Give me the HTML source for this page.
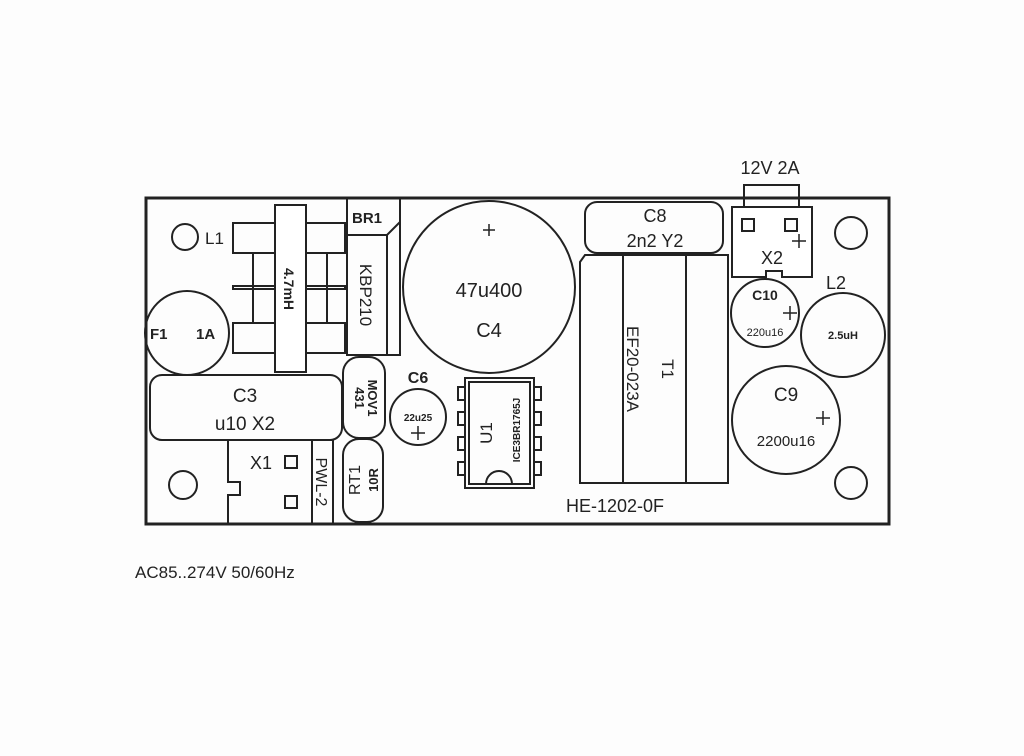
<!DOCTYPE html>
<html><head><style>
html,body{margin:0;padding:0;background:#fff;}
svg{display:block;}
text{font-family:"Liberation Sans",sans-serif;fill:#222;}
</style></head><body>
<svg width="1024" height="756" viewBox="0 0 1024 756" xmlns="http://www.w3.org/2000/svg">
<rect width="1024" height="756" fill="#fdfdfd"/>
<g fill="none" stroke="#222" stroke-width="2">
<rect x="146" y="198" width="743" height="326" stroke-width="3"/>
<!-- holes -->
<circle cx="185" cy="237" r="13"/>
<circle cx="183" cy="485" r="14"/>
<circle cx="851" cy="233" r="16"/>
<circle cx="851" cy="483" r="16"/>
<!-- F1 -->
<circle cx="187" cy="333" r="42"/>
<!-- L1 coil -->
<rect x="233" y="223" width="42" height="30"/>
<rect x="233" y="323" width="42" height="30"/>
<rect x="306" y="223" width="39" height="30"/>
<rect x="306" y="323" width="39" height="30"/>
<line x1="253" y1="253" x2="253" y2="323"/>
<line x1="327" y1="253" x2="327" y2="323"/>
<rect x="233" y="286" width="112" height="3"/>
<rect x="275" y="205" width="31" height="167" fill="#fff"/>
<!-- BR1 -->
<path d="M347 198 V355 H400 V224 L400 198"/>
<path d="M347 235 H387 L400 222"/>
<line x1="387" y1="235" x2="387" y2="355"/>
<!-- C3 -->
<rect x="150" y="375" width="192" height="65" rx="12"/>
<!-- MOV1 / RT1 -->
<rect x="343" y="357" width="42" height="81" rx="16"/>
<rect x="343" y="439" width="40" height="83" rx="16"/>
<!-- X1 -->
<path d="M333 440 H228 V482 H240 V495 H228 V524"/>
<line x1="312" y1="440" x2="312" y2="524"/>
<line x1="333" y1="440" x2="333" y2="524"/>
<rect x="285" y="456" width="12" height="12"/>
<rect x="285" y="496" width="12" height="12"/>
<!-- C4 -->
<circle cx="489" cy="287" r="86"/>
<path d="M483 230 H495 M489 224 V236" stroke-width="1.5"/>
<!-- C6 -->
<circle cx="418" cy="417" r="28"/>
<path d="M411 433 H425 M418 426 V440" stroke-width="1.5"/>
<!-- U1 -->
<rect x="465" y="378" width="69" height="110"/>
<rect x="469" y="382" width="61" height="102"/>
<rect x="458" y="387" width="7" height="13"/><rect x="458" y="412" width="7" height="13"/>
<rect x="458" y="437" width="7" height="13"/><rect x="458" y="462" width="7" height="13"/>
<rect x="534" y="387" width="7" height="13"/><rect x="534" y="412" width="7" height="13"/>
<rect x="534" y="437" width="7" height="13"/><rect x="534" y="462" width="7" height="13"/>
<path d="M486 484 A13 13 0 0 1 512 484 Z"/>
<!-- C8 -->
<rect x="585" y="202" width="138" height="51" rx="12"/>
<!-- T1 -->
<path d="M585 255 H728 V483 H580 V262 Z"/>
<line x1="623" y1="255" x2="623" y2="483"/>
<line x1="686" y1="255" x2="686" y2="483"/>
<!-- X2 -->
<rect x="744" y="185" width="55" height="22"/>
<path d="M732 207 H812 V277 H782 V271 H766 V277 H732 Z" fill="#fff"/>
<rect x="742" y="219" width="12" height="12"/>
<rect x="785" y="219" width="12" height="12"/>
<path d="M792 241 H806 M799 234 V248" stroke-width="1.5"/>
<!-- C10 -->
<circle cx="765" cy="313" r="34"/>
<path d="M783 313 H797 M790 306 V320" stroke-width="1.5"/>
<!-- L2 -->
<circle cx="843" cy="335" r="42"/>
<!-- C9 -->
<circle cx="786" cy="420" r="54"/>
<path d="M816 418 H830 M823 411 V425" stroke-width="1.5"/>
</g>
<g font-size="17">
<text x="205" y="244">L1</text>
<text x="150" y="339" font-weight="bold" font-size="15">F1</text>
<text x="196" y="339" font-weight="bold" font-size="15">1A</text>
<text x="352" y="223" font-weight="bold" font-size="15">BR1</text>
<text x="245" y="402" text-anchor="middle" font-size="19">C3</text>
<text x="245" y="430" text-anchor="middle" font-size="19">u10 X2</text>
<text x="250" y="469" font-size="18">X1</text>
<text x="489" y="297" text-anchor="middle" font-size="20">47u400</text>
<text x="489" y="337" text-anchor="middle" font-size="20">C4</text>
<text x="418" y="383" text-anchor="middle" font-weight="bold" font-size="16">C6</text>
<text x="418" y="421" text-anchor="middle" font-weight="bold" font-size="10">22u25</text>
<text x="655" y="222" text-anchor="middle" font-size="18">C8</text>
<text x="655" y="247" text-anchor="middle" font-size="18">2n2 Y2</text>
<text x="566" y="512" font-size="18">HE-1202-0F</text>
<text x="770" y="174" text-anchor="middle" font-size="18">12V 2A</text>
<text x="772" y="264" text-anchor="middle" font-size="18">X2</text>
<text x="765" y="300" text-anchor="middle" font-weight="bold" font-size="14">C10</text>
<text x="765" y="336" text-anchor="middle" font-size="11">220u16</text>
<text x="836" y="289" text-anchor="middle" font-size="18">L2</text>
<text x="843" y="339" text-anchor="middle" font-weight="bold" font-size="11">2.5uH</text>
<text x="786" y="401" text-anchor="middle" font-size="19">C9</text>
<text x="786" y="446" text-anchor="middle" font-size="15">2200u16</text>
<text x="135" y="578" font-size="17">AC85..274V 50/60Hz</text>
<text transform="translate(284 289) rotate(90)" text-anchor="middle" font-weight="bold" font-size="14">4.7mH</text>
<text transform="translate(360 295) rotate(90)" text-anchor="middle" font-size="17">KBP210</text>
<text transform="translate(368 398) rotate(90)" text-anchor="middle" font-weight="bold" font-size="13">MOV1</text>
<text transform="translate(355 398) rotate(90)" text-anchor="middle" font-weight="bold" font-size="13">431</text>
<text transform="translate(346 480) rotate(-90)" text-anchor="middle" font-size="16" dy="14">RT1</text>
<text transform="translate(366 480) rotate(-90)" text-anchor="middle" font-weight="bold" font-size="13" dy="12">10R</text>
<text transform="translate(316 482) rotate(90)" text-anchor="middle" font-size="16">PWL-2</text>
<text transform="translate(480 433) rotate(-90)" text-anchor="middle" font-size="17" dy="12">U1</text>
<text transform="translate(512 430) rotate(-90)" text-anchor="middle" font-weight="bold" font-size="10" dy="8">ICE3BR1765J</text>
<text transform="translate(627 369) rotate(90)" text-anchor="middle" font-size="17">EF20-023A</text>
<text transform="translate(662 369) rotate(90)" text-anchor="middle" font-size="17">T1</text>
</g>
</svg>
</body></html>
